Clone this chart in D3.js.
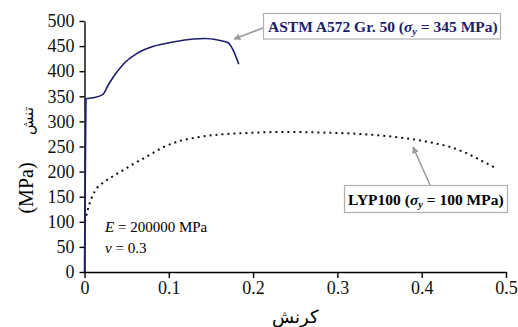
<!DOCTYPE html>
<html>
<head>
<meta charset="utf-8">
<script src="https://cdn.jsdelivr.net/npm/d3@7"></script>
<style>
  html, body { margin: 0; padding: 0; background: #fff; }
  svg { display: block; }
  svg text { font-family: "Liberation Serif", "Times New Roman", serif; }
</style>
</head>
<body>
<svg id="chart" width="518" height="327"></svg>
<script>
// Stress–strain curves of two steels
const xTicks = [0, 0.1, 0.2, 0.3, 0.4, 0.5];
const xTickLabels = ["0", "0.1", "0.2", "0.3", "0.4", "0.5"];
const yTicks = [0, 50, 100, 150, 200, 250, 300, 350, 400, 450, 500];

// ASTM A572 Gr. 50
const steelStrain = [0, 0.0017, 0.010, 0.022, 0.028, 0.034, 0.046, 0.062, 0.081, 0.105, 0.129, 0.143, 0.158, 0.170, 0.176, 0.183];
const steelStress = [0, 345, 347, 354, 372, 388, 414, 435, 449, 458, 464, 465, 462, 457, 443, 414];

// LYP100
const lypStrain = [0.0005, 0.004, 0.012, 0.024, 0.034, 0.046, 0.060, 0.074, 0.094, 0.113, 0.133, 0.161, 0.193, 0.236, 0.276, 0.327, 0.363, 0.387, 0.414, 0.434, 0.454, 0.473, 0.488];
const lypStress = [100, 125, 160, 180, 191, 203, 217, 230, 249, 261, 268, 274, 277, 279, 278, 275, 270, 265, 257, 249, 236, 220, 207];

const svg = d3.select("#chart");
const x = d3.scaleLinear().domain([0, 0.5]).range([84.5, 506]);
const y = d3.scaleLinear().domain([0, 500]).range([272, 21]);

const navy = "#1d1d6b";
const serif = "'Liberation Serif', 'Times New Roman', serif";

// arrowhead
svg.append("defs").append("marker")
  .attr("id", "head").attr("viewBox", "0 0 10 10")
  .attr("refX", 9).attr("refY", 5)
  .attr("markerWidth", 7).attr("markerHeight", 7)
  .attr("markerUnits", "userSpaceOnUse")
  .attr("orient", "auto")
  .append("path").attr("d", "M0,0 L10,5 L0,10 Z").attr("fill", "#9a9a9a");

// axes
const xAxis = svg.append("g").attr("transform", `translate(0,${y(0)})`)
  .call(d3.axisBottom(x).tickValues(xTicks).tickFormat((d, i) => xTickLabels[i])
    .tickSize(6).tickSizeOuter(0).tickPadding(3));
const yAxis = svg.append("g").attr("transform", `translate(${x(0)},0)`)
  .call(d3.axisLeft(y).tickValues(yTicks).tickFormat(d3.format("d"))
    .tickSize(5).tickSizeOuter(0).tickPadding(5));

for (const g of [xAxis, yAxis]) {
  g.attr("font-family", serif).attr("font-size", 18);
  g.selectAll("path, line").style("stroke", "#000").style("stroke-width", "1.4px");
  g.selectAll("text").style("fill", "#111").style("font-size", "18px").style("font-family", serif);
}

// curves
const curveLine = d3.line().x(d => x(d[0])).y(d => y(d[1])).curve(d3.curveMonotoneX);
svg.append("path")
  .datum(d3.zip(steelStrain, steelStress))
  .attr("d", curveLine)
  .attr("fill", "none").attr("stroke", navy).attr("stroke-width", 1.6);

svg.append("path")
  .datum(d3.zip(lypStrain, lypStress))
  .attr("d", curveLine)
  .attr("fill", "none").attr("stroke", "#111").attr("stroke-width", 2)
  .attr("stroke-dasharray", "2,4");

// axis titles: units and the word for stress, stacked along the rotated axis
svg.append("text")
  .attr("transform", "translate(33,188) rotate(-90)")
  .attr("text-anchor", "middle").style("font-size", "20px")
  .text("(MPa)");
svg.append("text")
  .attr("transform", "translate(33,121) rotate(-90)")
  .attr("text-anchor", "middle").attr("direction", "rtl").style("font-size", "15px")
  .text("تنش");

svg.append("text")
  .attr("x", 295).attr("y", 323)
  .attr("text-anchor", "middle").attr("direction", "rtl").style("font-size", "18px")
  .text("کرنش");

// material constants
const note = svg.append("g").style("font-size", "15px");
const t1 = note.append("text").attr("x", 105).attr("y", 232);
t1.append("tspan").attr("font-style", "italic").text("E");
t1.append("tspan").text(" = 200000 MPa");
const t2 = note.append("text").attr("x", 105).attr("y", 253);
t2.append("tspan").attr("font-style", "italic").text("ν");
t2.append("tspan").text(" = 0.3");

// callout labels
function callout(bx, by, bw, bh, tx, ty, color, name, val, from, to) {
  svg.append("line")
    .attr("x1", from[0]).attr("y1", from[1]).attr("x2", to[0]).attr("y2", to[1])
    .attr("stroke", "#9a9a9a").attr("stroke-width", 1.5).attr("marker-end", "url(#head)");
  svg.append("rect").attr("x", bx).attr("y", by).attr("width", bw).attr("height", bh)
    .attr("fill", "#fff").attr("stroke", "#b0b0b0").attr("stroke-width", 1.2);
  const t = svg.append("text").attr("x", tx).attr("y", ty)
    .style("font-size", "15.5px").attr("font-weight", "bold").attr("fill", color);
  t.append("tspan").text(name + " (");
  t.append("tspan").attr("font-style", "italic").text("σ");
  t.append("tspan").attr("font-style", "italic").style("font-size", "10.5px").attr("dy", 3).text("y");
  t.append("tspan").attr("dy", -3).text(" = " + val + " MPa)");
}

callout(263.5, 13.5, 237, 25.5, 268, 32, navy, "ASTM A572 Gr. 50", 345, [263, 28], [234, 39]);
callout(344.5, 185.5, 163, 27, 348, 205, "#000", "LYP100", 100, [430, 185], [413, 147]);
</script>
</body>
</html>
